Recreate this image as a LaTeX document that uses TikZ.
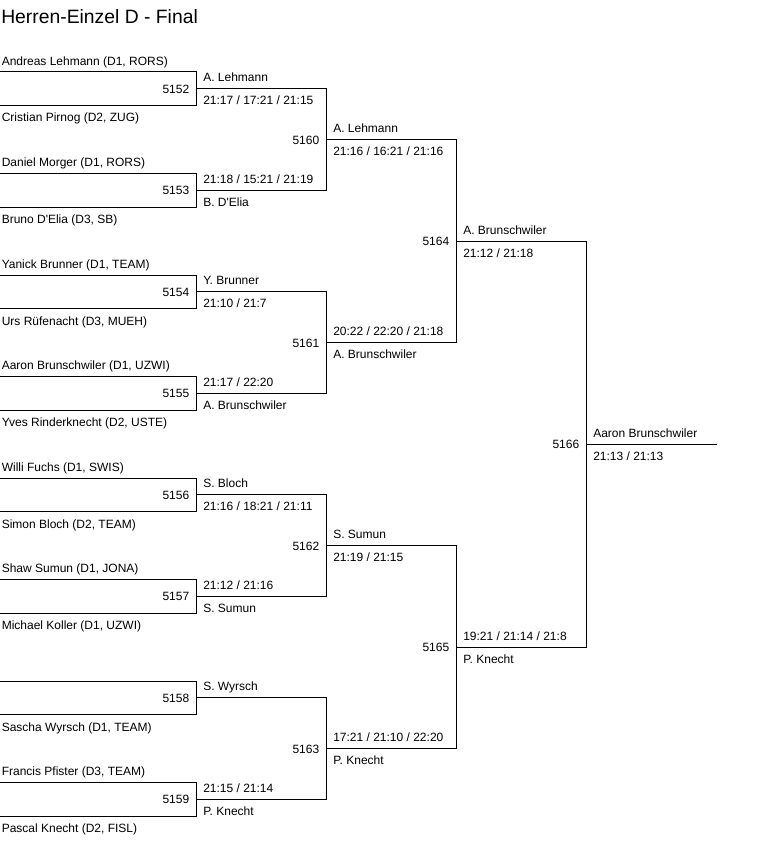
\documentclass[tikz,border=0pt]{standalone}
\usepackage{fontspec}
\setmainfont{Liberation Sans}[Ligatures=TeXOff]
\usetikzlibrary{calc}
\tikzset{
  bkline/.style={line width=0.75pt, line cap=rect, black},
  bklab/.style={anchor=base west, inner sep=0pt, text=black, font=\fontsize{9}{10}\selectfont},
  bknum/.style={anchor=base east, inner sep=0pt, text=black, font=\fontsize{9}{10}\selectfont},
  bktitle/.style={anchor=base west, inner sep=0pt, text=black, font=\fontsize{14.5}{17}\selectfont}
}
% first-round entry: #1 name, #2 y top, #3 y bottom, #4 top player, #5 bottom player
\newcommand{\bkEntry}[5]{%
  \coordinate (#1-l1) at (0,#2);
  \coordinate (#1-r1) at (196,#2);
  \coordinate (#1-l2) at (0,#3);
  \coordinate (#1-r2) at (196,#3);
  \draw[bkline] (#1-l1) -- (#1-r1);
  \draw[bkline] (#1-l2) -- (#1-r2);
  \node[bklab] (#1-p1) at ($(#1-l1)+(1.5,-7)$) {#4};
  \node[bklab] (#1-p2) at ($(#1-l2)+(1.5,16.5)$) {#5};
}
% match: #1 name, #2 upper input, #3 lower input, #4 number, #5 above, #6 below
\newcommand{\bkMatch}[6]{%
  \coordinate (#1-m) at ($(#2)!0.5!(#3)$);
  \coordinate (#1-o) at ($(#1-m)+(130,0)$);
  \draw[bkline] (#2) -- (#3);
  \draw[bkline] (#1-m) -- (#1-o);
  \node[bknum] (#1-n) at ($(#1-m)+(-6.5,4.5)$) {#4};
  \node[bklab] (#1-t) at ($(#1-m)+(7,-7)$) {#5};
  \node[bklab] (#1-u) at ($(#1-m)+(7,16)$) {#6};
}
\begin{document}
\begin{tikzpicture}[x=0.75pt,y=-0.75pt]
\fill[white] (0,0) rectangle (783,842);
\useasboundingbox (0,0) rectangle (783,842);
\node[bktitle] (title) at (1,24) {Herren-Einzel D - Final};
% first round
\bkEntry{e0}{72}{105.5}{Andreas Lehmann (D1, RORS)}{Cristian Pirnog (D2, ZUG)}
\bkEntry{e1}{173.5}{207}{Daniel Morger (D1, RORS)}{Bruno D'Elia (D3, SB)}
\bkEntry{e2}{275}{308.5}{Yanick Brunner (D1, TEAM)}{Urs Rüfenacht (D3, MUEH)}
\bkEntry{e3}{376.5}{410}{Aaron Brunschwiler (D1, UZWI)}{Yves Rinderknecht (D2, USTE)}
\bkEntry{e4}{478}{511.5}{Willi Fuchs (D1, SWIS)}{Simon Bloch (D2, TEAM)}
\bkEntry{e5}{579.5}{613}{Shaw Sumun (D1, JONA)}{Michael Koller (D1, UZWI)}
\bkEntry{e6}{681}{714.5}{}{Sascha Wyrsch (D1, TEAM)}
\bkEntry{e7}{782.5}{816}{Francis Pfister (D3, TEAM)}{Pascal Knecht (D2, FISL)}
% round 1 matches
\bkMatch{m5152}{e0-r1}{e0-r2}{5152}{A. Lehmann}{21:17 / 17:21 / 21:15}
\bkMatch{m5153}{e1-r1}{e1-r2}{5153}{21:18 / 15:21 / 21:19}{B. D'Elia}
\bkMatch{m5154}{e2-r1}{e2-r2}{5154}{Y. Brunner}{21:10 / 21:7}
\bkMatch{m5155}{e3-r1}{e3-r2}{5155}{21:17 / 22:20}{A. Brunschwiler}
\bkMatch{m5156}{e4-r1}{e4-r2}{5156}{S. Bloch}{21:16 / 18:21 / 21:11}
\bkMatch{m5157}{e5-r1}{e5-r2}{5157}{21:12 / 21:16}{S. Sumun}
\bkMatch{m5158}{e6-r1}{e6-r2}{5158}{S. Wyrsch}{}
\bkMatch{m5159}{e7-r1}{e7-r2}{5159}{21:15 / 21:14}{P. Knecht}
% round 2
\bkMatch{m5160}{m5152-o}{m5153-o}{5160}{A. Lehmann}{21:16 / 16:21 / 21:16}
\bkMatch{m5161}{m5154-o}{m5155-o}{5161}{20:22 / 22:20 / 21:18}{A. Brunschwiler}
\bkMatch{m5162}{m5156-o}{m5157-o}{5162}{S. Sumun}{21:19 / 21:15}
\bkMatch{m5163}{m5158-o}{m5159-o}{5163}{17:21 / 21:10 / 22:20}{P. Knecht}
% semifinals
\bkMatch{m5164}{m5160-o}{m5161-o}{5164}{A. Brunschwiler}{21:12 / 21:18}
\bkMatch{m5165}{m5162-o}{m5163-o}{5165}{19:21 / 21:14 / 21:8}{P. Knecht}
% final
\bkMatch{m5166}{m5164-o}{m5165-o}{5166}{Aaron Brunschwiler}{21:13 / 21:13}
\end{tikzpicture}
\end{document}
